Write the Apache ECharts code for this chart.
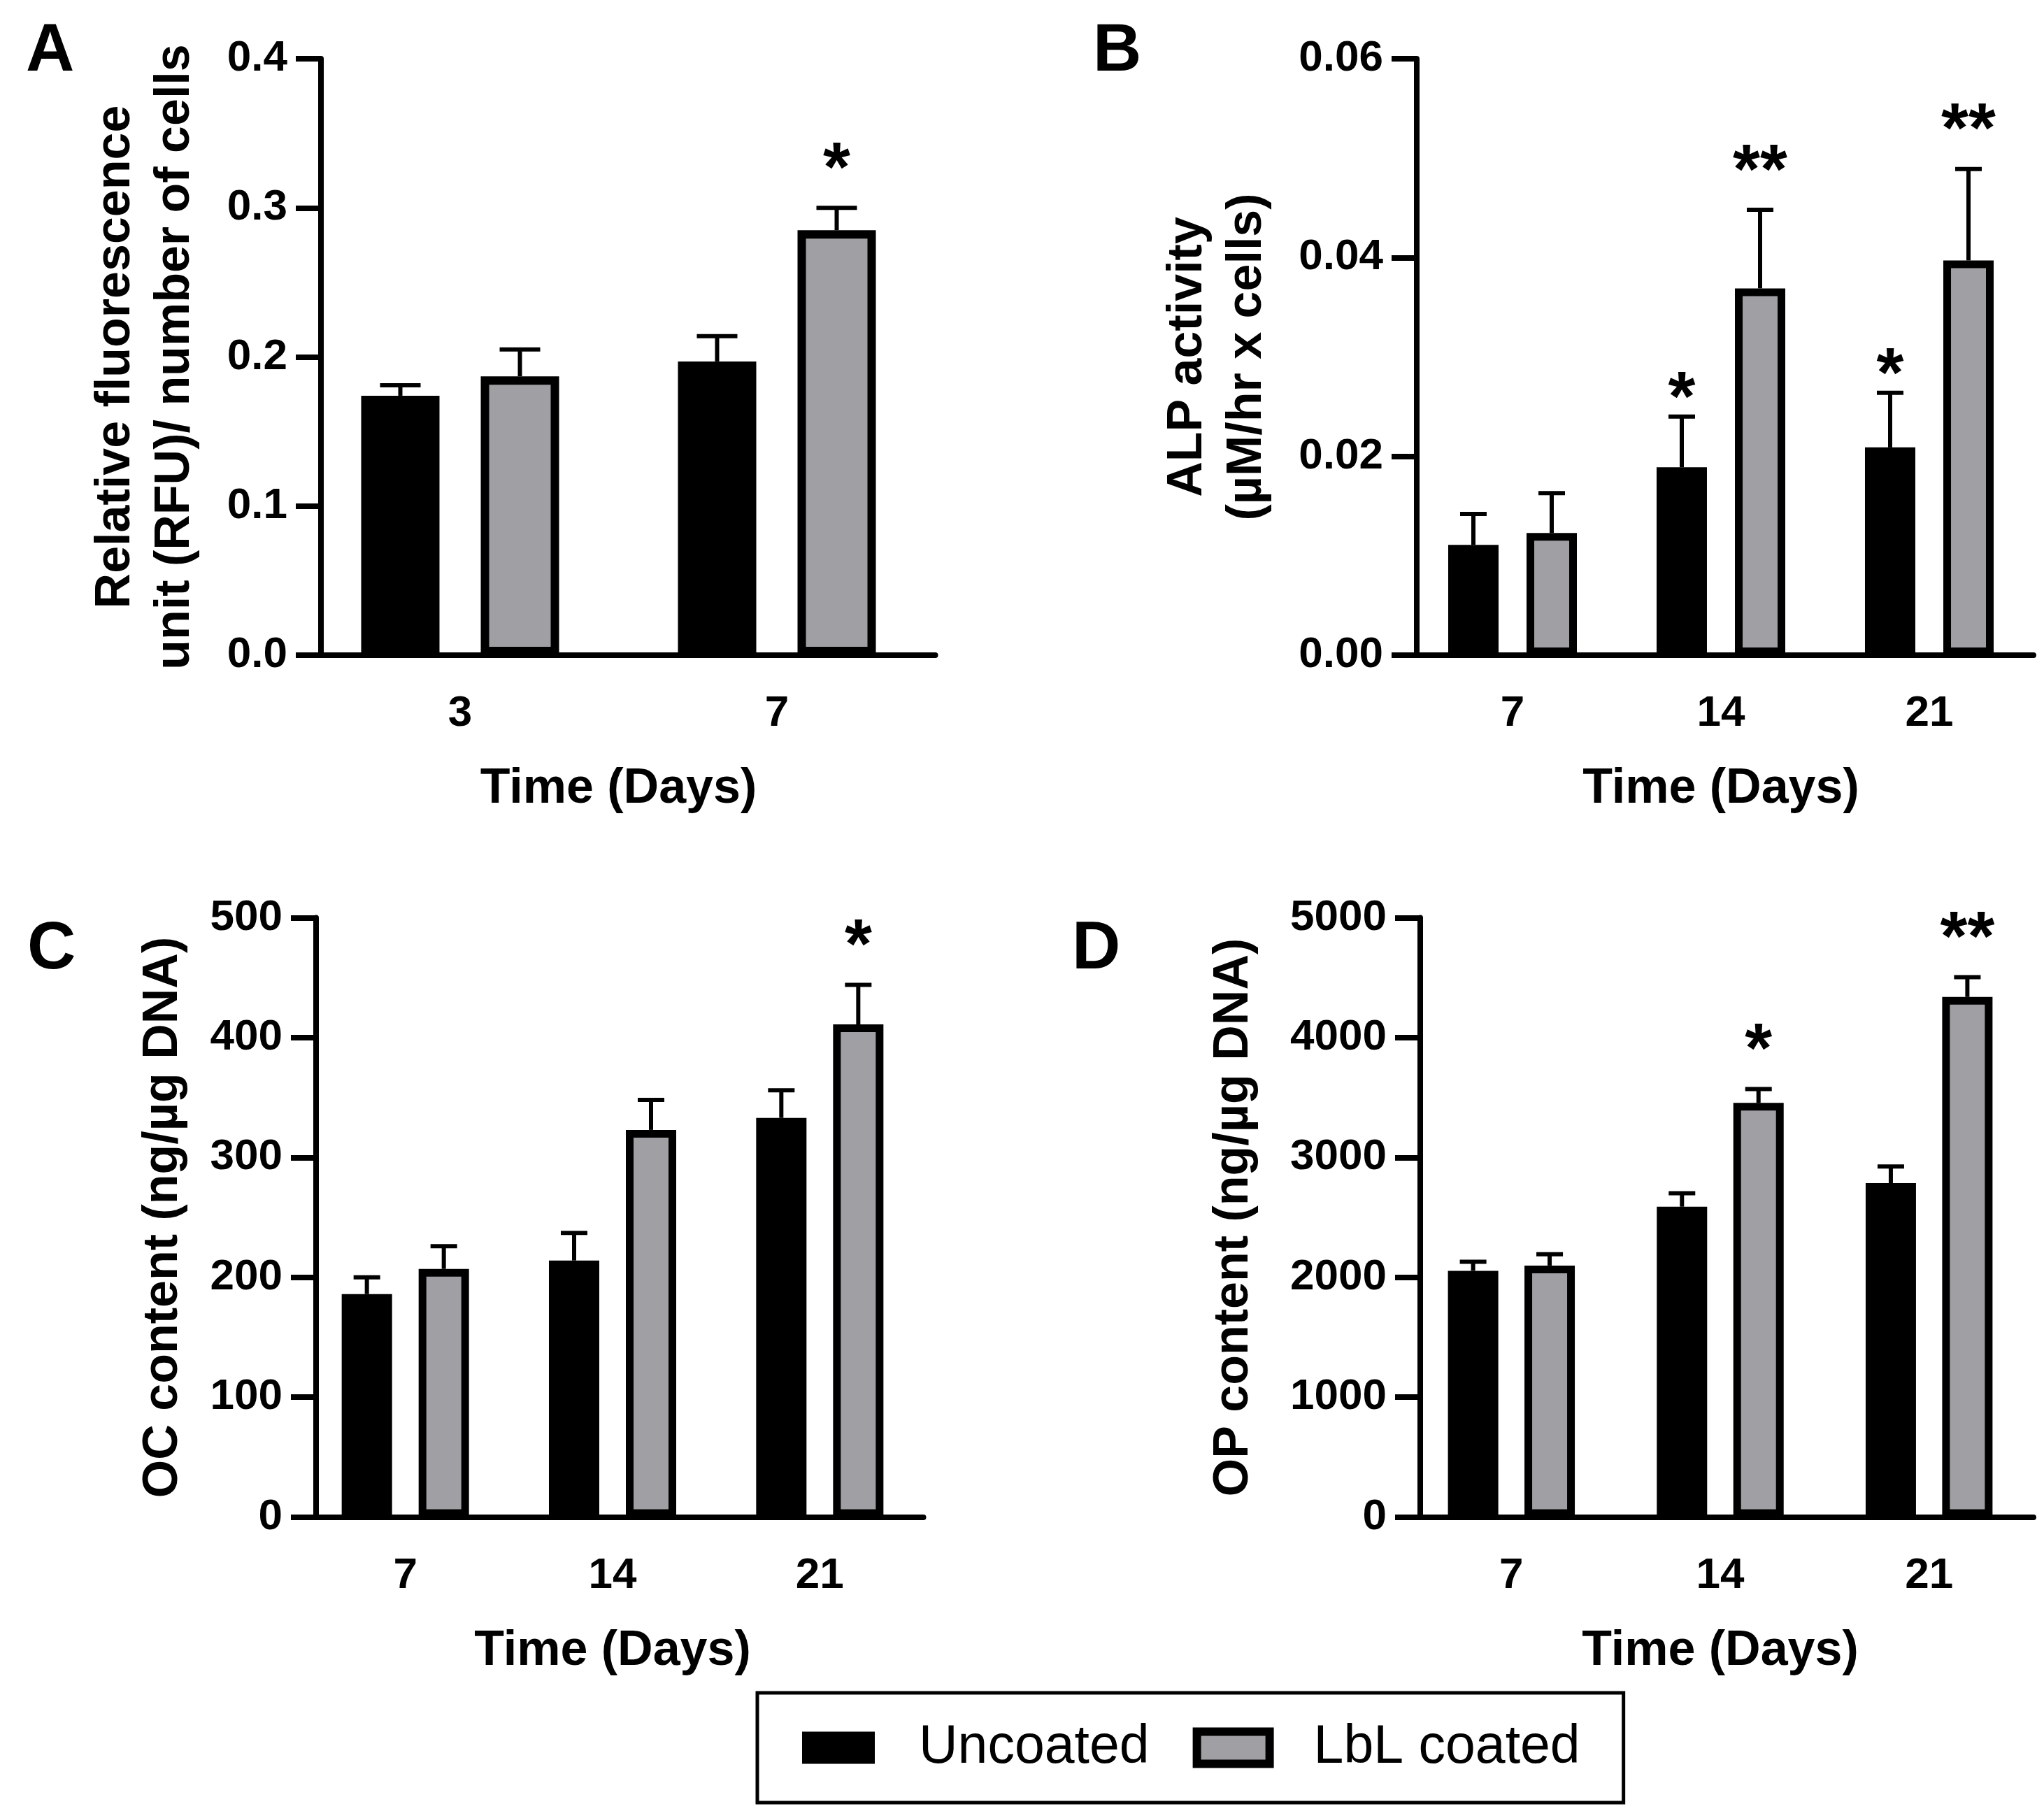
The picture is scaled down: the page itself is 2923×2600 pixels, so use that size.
<!DOCTYPE html>
<html>
<head>
<meta charset="utf-8">
<title>Osteogenic markers, uncoated vs LbL coated</title>
<script src="https://cdn.jsdelivr.net/npm/echarts@6.0.0/dist/echarts.min.js"></script>
<style>
    html, body { margin: 0; padding: 0; background: #fff; }
    #chart { width: 2923px; height: 2600px; }
</style>
</head>
<body>
<div id="chart"></div>
<script>
/*====================data====================*/
var seriesNames = ['Uncoated', 'LbL coated'];
var xName = 'Time (Days)';

// A - relative fluorescence
var daysA = ['3', '7'];
var uncoatedA = [0.174, 0.197];
var uncoatedErrA = [0.007, 0.017];
var coatedA = [0.187, 0.285];
var coatedErrA = [0.018, 0.015];
var uncoatedSigA = ['', ''];
var coatedSigA = ['', '*'];
var yMaxA = 0.4, yStepA = 0.1;

// B - ALP activity
var daysB = ['7', '14', '21'];
var uncoatedB = [0.0111, 0.0189, 0.0209];
var uncoatedErrB = [0.0031, 0.0051, 0.0055];
var coatedB = [0.0123, 0.0369, 0.0397];
var coatedErrB = [0.0040, 0.0079, 0.0092];
var uncoatedSigB = ['', '*', '*'];
var coatedSigB = ['', '**', '**'];
var yMaxB = 0.06, yStepB = 0.02;

// C - OC content
var daysC = ['7', '14', '21'];
var uncoatedC = [186, 214, 333];
var uncoatedErrC = [14, 23, 23];
var coatedC = [207, 323, 411];
var coatedErrC = [19, 25, 33];
var uncoatedSigC = ['', '', ''];
var coatedSigC = ['', '', '*'];
var yMaxC = 500, yStepC = 100;

// D - OP content
var daysD = ['7', '14', '21'];
var uncoatedD = [2054, 2589, 2786];
var uncoatedErrD = [75, 112, 138];
var coatedD = [2098, 3455, 4339];
var coatedErrD = [94, 116, 165];
var uncoatedSigD = ['', '', ''];
var coatedSigD = ['', '*', '**'];
var yMaxD = 5000, yStepD = 1000;

/*====================style====================*/
var FONT = '"Liberation Sans", Arial, sans-serif';
var GRAY = '#a0a0a4';
var AXIS_W = 8;

var option = {
    animation: false,
    backgroundColor: '#fff',
    title: [],
    grid: [],
    xAxis: [],
    yAxis: [],
    series: [],
    legend: {
        left: 1083,
        top: 2421,
        orient: 'horizontal',
        selectedMode: false,
        icon: 'rect',
        itemWidth: 104,
        itemHeight: 46,
        itemGap: 62,
        padding: [40, 62, 40, 64],
        borderColor: '#000',
        borderWidth: 5,
        textStyle: {
            fontFamily: FONT,
            fontSize: 77,
            color: '#000',
            lineHeight: 75,
            padding: [0, 0, 0, 58]
        },
        data: [
            { name: seriesNames[0], itemStyle: { color: '#000', borderWidth: 0 } },
            { name: seriesNames[1], itemStyle: { color: GRAY, borderColor: '#000', borderWidth: 12 } }
        ]
    }
};

// error bar (+SD only) and significance marks drawn on top of a bar
function errorBars(offset, capW, sig, sigGap) {
    return function (params, api) {
        var idx = api.value(0);
        var mean = api.value(1);
        var err = api.value(2);
        var base = api.coord([idx, mean]);
        var top = api.coord([idx, mean + err]);
        var x = base[0] + offset;
        var children = [
            { type: 'line', shape: { x1: x, y1: base[1], x2: x, y2: top[1] }, style: { stroke: '#000', lineWidth: 6 } },
            { type: 'line', shape: { x1: x - capW / 2, y1: top[1], x2: x + capW / 2, y2: top[1] }, style: { stroke: '#000', lineWidth: 6 } }
        ];
        var s = sig[params.dataIndex];
        if (s) {
            children.push({
                type: 'text',
                x: x,
                y: top[1] - sigGap,
                style: { text: s, fill: '#000', font: 'bold 100px ' + FONT, align: 'center', verticalAlign: 'middle' }
            });
        }
        return { type: 'group', children: children };
    };
}

function addPanel(p) {
    var i = option.grid.length;
    option.grid.push({ left: p.left, top: p.top, width: p.width, height: p.height, containLabel: false });
    option.title.push({
        text: p.letter, left: p.letterX, top: p.letterY,
        textStyle: { fontFamily: FONT, fontWeight: 'bold', fontSize: 96, color: '#000' }
    });
    option.xAxis.push({
        type: 'category',
        gridIndex: i,
        data: p.days,
        name: xName,
        nameLocation: 'middle',
        nameGap: 157,
        nameTextStyle: { fontFamily: FONT, fontWeight: 'bold', fontSize: 70, color: '#000' },
        axisLine: { lineStyle: { color: '#000', width: AXIS_W } },
        axisTick: { alignWithLabel: true, length: 37, lineStyle: { color: '#000', width: AXIS_W } },
        axisLabel: { fontFamily: FONT, fontWeight: 'bold', fontSize: 62, color: '#000', margin: 53 },
        splitLine: { show: false }
    });
    option.yAxis.push({
        type: 'value',
        gridIndex: i,
        min: 0,
        max: p.yMax,
        interval: p.yStep,
        offset: p.yOffset,
        name: p.yName,
        nameLocation: 'middle',
        nameGap: p.nameGap,
        nameTextStyle: { fontFamily: FONT, fontWeight: 'bold', fontSize: 70, color: '#000', lineHeight: 85 },
        axisLine: { show: true, lineStyle: { color: '#000', width: AXIS_W } },
        axisTick: { show: true, length: 36, lineStyle: { color: '#000', width: AXIS_W } },
        axisLabel: {
            fontFamily: FONT, fontWeight: 'bold', fontSize: 62, color: '#000', margin: 48,
            formatter: function (v) { return v.toFixed(p.decimals); }
        },
        splitLine: { show: false }
    });
    // echarts draws the bar border inside the bar, so barWidth is the outer width
    var shift = p.barWidth * (1 + p.gap) / 2;
    var groups = [
        { name: seriesNames[0], color: '#000', mean: p.uncoated, err: p.uncoatedErr, sig: p.uncoatedSig, off: -shift, sigGap: 22 },
        { name: seriesNames[1], color: GRAY, mean: p.coated, err: p.coatedErr, sig: p.coatedSig, off: shift, sigGap: 52 }
    ];
    groups.forEach(function (g) {
        option.series.push({
            name: g.name,
            type: 'bar',
            xAxisIndex: i,
            yAxisIndex: i,
            barWidth: p.barWidth,
            barGap: (p.gap * 100) + '%',
            itemStyle: { color: g.color, borderColor: '#000', borderWidth: p.border },
            data: g.mean
        });
    });
    groups.forEach(function (g) {
        option.series.push({
            name: g.name + ' SD',
            type: 'custom',
            xAxisIndex: i,
            yAxisIndex: i,
            z: 5,
            silent: true,
            renderItem: errorBars(g.off, p.capW, g.sig, g.sigGap),
            encode: { x: 0, y: [1, 2] },
            data: g.mean.map(function (v, k) { return [k, v, g.err[k]]; })
        });
    });
}

/*====================panels====================*/
addPanel({
    letter: 'A', letterX: 32, letterY: 22,
    left: 431.5, top: 84, width: 906, height: 853, yOffset: -27.5,
    days: daysA, uncoated: uncoatedA, uncoatedErr: uncoatedErrA, coated: coatedA, coatedErr: coatedErrA,
    uncoatedSig: uncoatedSigA, coatedSig: coatedSigA,
    yMax: yMaxA, yStep: yStepA, decimals: 1,
    yName: 'Relative fluorescence\nunit (RFU)/ number of cells', nameGap: 166,
    barWidth: 112, gap: 0.527, border: 12, capW: 58
});
addPanel({
    letter: 'B', letterX: 1558, letterY: 22,
    left: 2014, top: 84, width: 894, height: 853, yOffset: -12,
    days: daysB, uncoated: uncoatedB, uncoatedErr: uncoatedErrB, coated: coatedB, coatedErr: coatedErrB,
    uncoatedSig: uncoatedSigB, coatedSig: coatedSigB,
    yMax: yMaxB, yStep: yStepB, decimals: 2,
    yName: 'ALP activity\n(\u00b5M/hr x cells)', nameGap: 200,
    barWidth: 72, gap: 0.556, border: 11, capW: 38
});
addPanel({
    letter: 'C', letterX: 34, letterY: 1306,
    left: 431.5, top: 1312.5, width: 889, height: 857, yOffset: -20.5,
    days: daysC, uncoated: uncoatedC, uncoatedErr: uncoatedErrC, coated: coatedC, coatedErr: coatedErrC,
    uncoatedSig: uncoatedSigC, coatedSig: coatedSigC,
    yMax: yMaxC, yStep: yStepC, decimals: 0,
    yName: 'OC content (ng/\u00b5g DNA)', nameGap: 176,
    barWidth: 72, gap: 0.528, border: 11, capW: 38
});
addPanel({
    letter: 'D', letterX: 1528, letterY: 1306,
    left: 2012, top: 1312.5, width: 896, height: 857, yOffset: -19,
    days: daysD, uncoated: uncoatedD, uncoatedErr: uncoatedErrD, coated: coatedD, coatedErr: coatedErrD,
    uncoatedSig: uncoatedSigD, coatedSig: coatedSigD,
    yMax: yMaxD, yStep: yStepD, decimals: 0,
    yName: 'OP content (ng/\u00b5g DNA)', nameGap: 224,
    barWidth: 72, gap: 0.52, border: 11, capW: 38
});

var myChart = echarts.init(document.getElementById('chart'));
myChart.setOption(option);
</script>
</body>
</html>
